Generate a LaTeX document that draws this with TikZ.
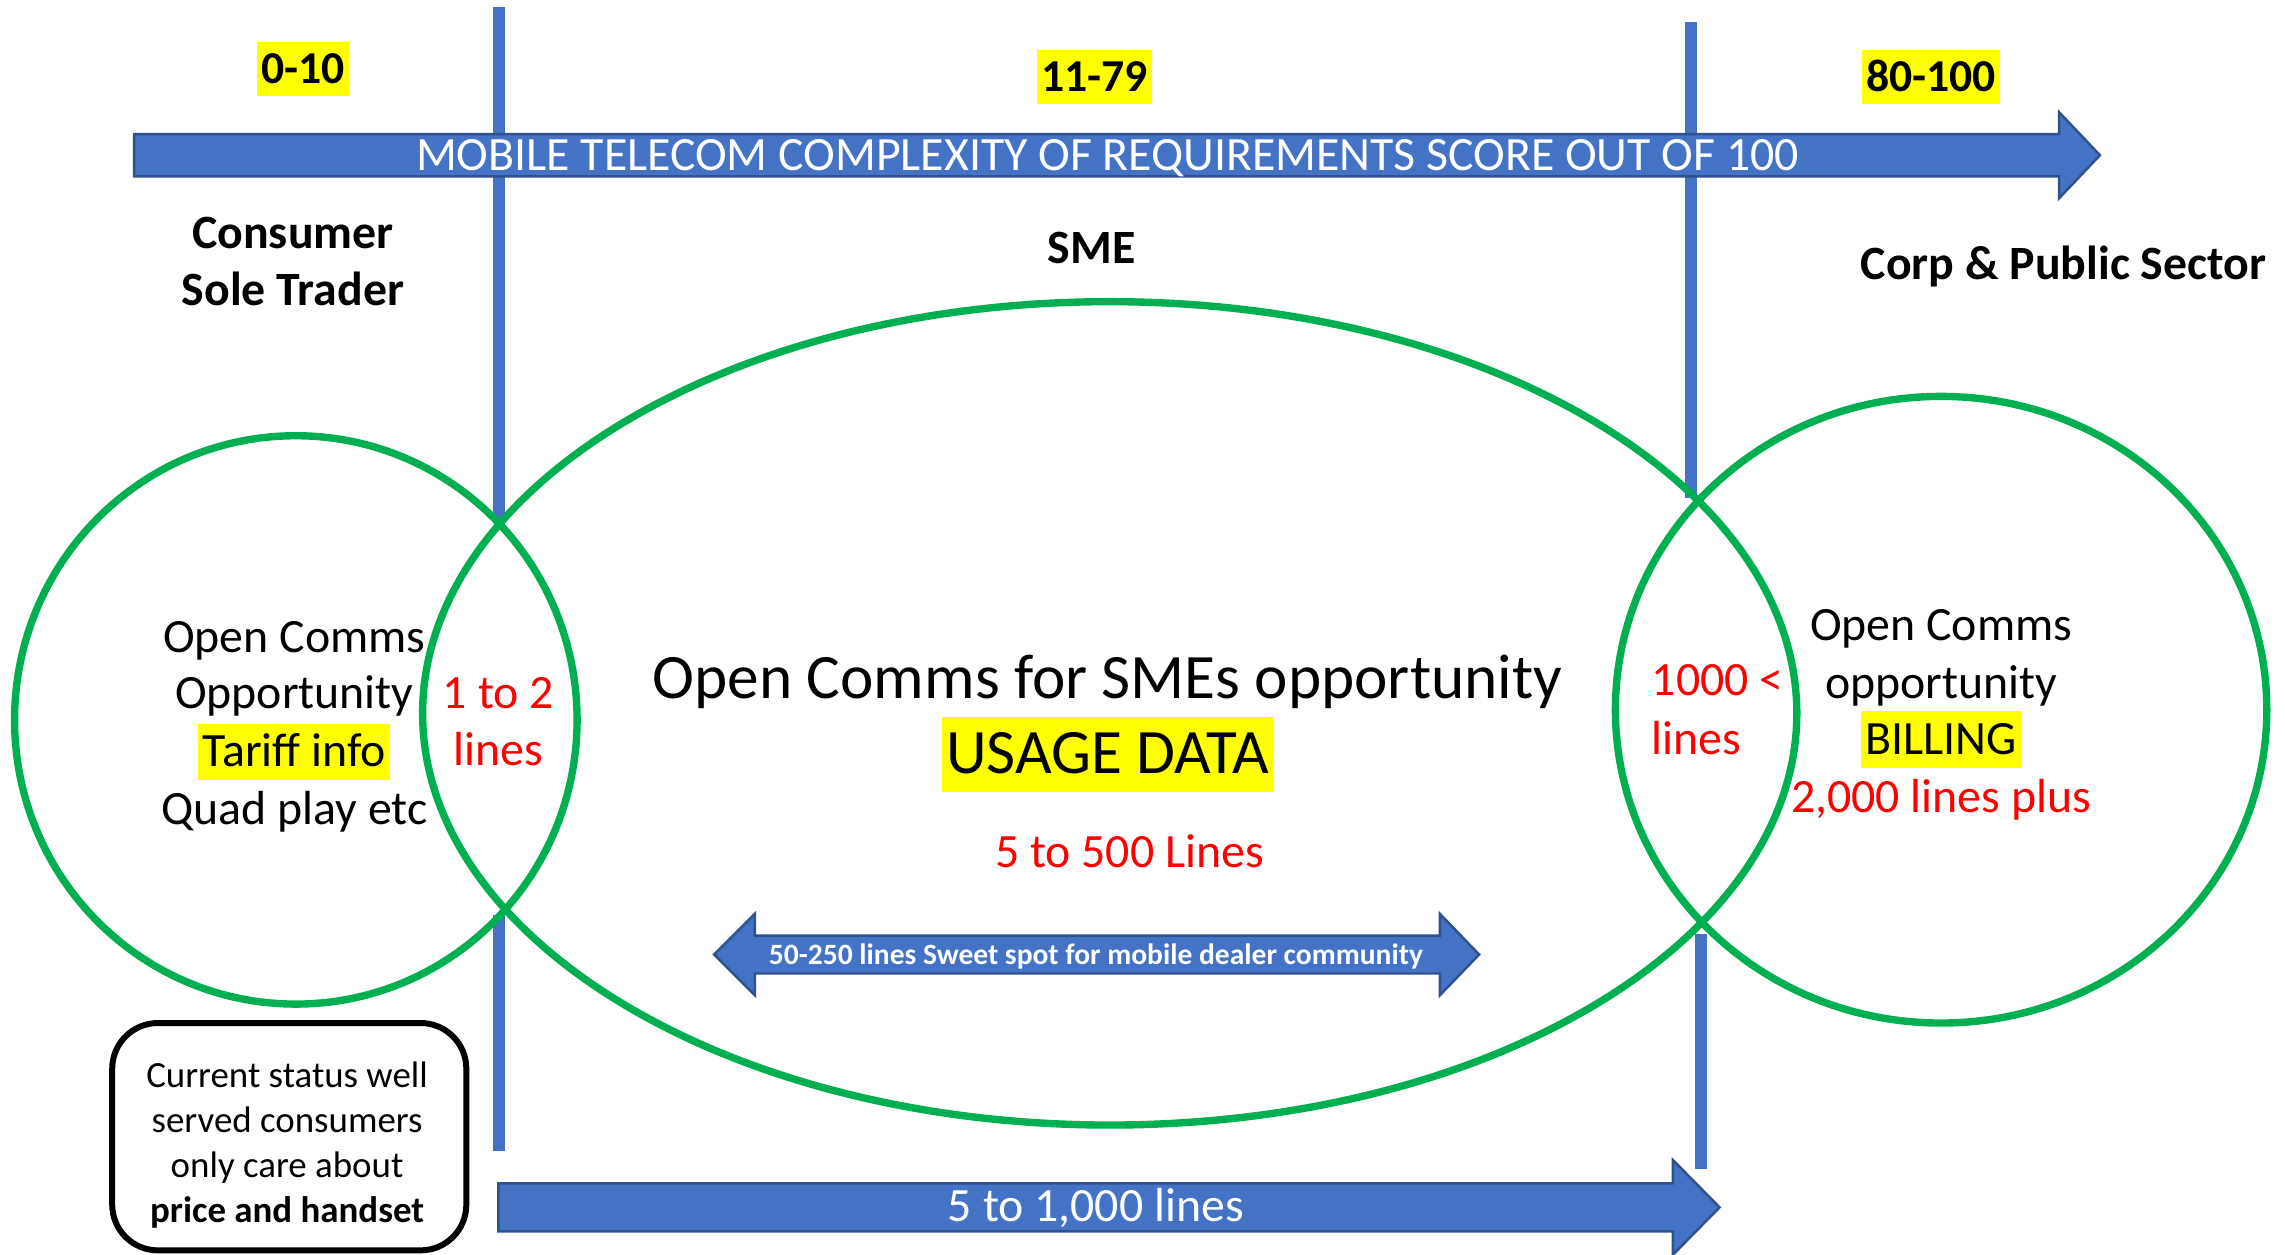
\documentclass[tikz,border=0pt]{standalone}
\usepackage{fontspec}
\setmainfont{Carlito}
\definecolor{barblue}{HTML}{4472C4}
\definecolor{baredge}{HTML}{2F528F}
\definecolor{ringgreen}{HTML}{00B050}
\definecolor{hotred}{HTML}{FF0000}
\definecolor{marker}{HTML}{FFFF00}
\begin{document}
\begin{tikzpicture}[x=0.014573cm,y=-0.014573cm,
  blockarrow/.style={fill=barblue,draw=baredge,line width=0.7pt,line join=miter},
  divider/.style={fill=barblue},
  ring/.style={draw=ringgreen,line width=2.1pt},
  txt/.style={inner sep=0pt,anchor=base},
  hl/.style={fill=marker,inner xsep=1.2pt,inner ysep=0pt,anchor=base},
  hlnum/.style={hl,text height=11.7pt,text depth=3.7pt},
  hlmain/.style={hl,text height=12.2pt,text depth=3.9pt},
  hlbig/.style={hl,text height=16.2pt,text depth=5.2pt},
  fmain/.style={font=\fontsize{13.6}{16}\selectfont},
  fbig/.style={font=\fontsize{18}{21}\selectfont},
  fnum/.style={font=\fontsize{13}{15}\selectfont\bfseries},
  fhead/.style={font=\fontsize{13.6}{16}\selectfont\bfseries},
  fsmall/.style={font=\fontsize{10.5}{12.5}\selectfont},
  fsmallbold/.style={font=\fontsize{10.5}{12.5}\selectfont\bfseries},
  fsweet/.style={font=\fontsize{8.4}{10}\selectfont\bfseries},
  redtxt/.style={text=hotred}]
\useasboundingbox (0,0) rectangle (1568,861);
\fill[white] (0,0) rectangle (1568,861);

% segment dividers
\fill[divider] (338,5) rectangle (346.5,356);
\fill[divider] (338,628) rectangle (346.5,790);
\fill[divider] (1156,15) rectangle (1164.5,342);
\fill[divider] (1163,641) rectangle (1171.5,802);

% complexity scale arrow
\draw[blockarrow] (92,92) -- (1413,92) -- (1413,77) -- (1441,106.5) -- (1413,136) -- (1413,121) -- (92,121) -- cycle;
\node[txt,fmain,text=white] (scale) at (760,117) {MOBILE TELECOM COMPLEXITY OF REQUIREMENTS SCORE OUT OF 100};

% score bands
\node[hlnum,fnum] (band1) at (208,57) {0-10};
\node[hlnum,fnum] (band2) at (751,62.5) {11-79};
\node[hlnum,fnum] (band3) at (1325,62.5) {80-100};

% segment titles
\node[txt,fhead] (consumer) at (201,170.5) {Consumer};
\node[txt,fhead] (soletrader) at (201,209.5) {Sole Trader};
\node[txt,fhead] (sme) at (749,180.5) {SME};
\node[txt,fhead] (corp) at (1416,191.5) {Corp \& Public Sector};

% market circles
\draw[ring] (203,494) ellipse [x radius=193, y radius=195];
\draw[ring] (761.5,489.5) ellipse [x radius=471.5, y radius=282.5];
\draw[ring] (1332,487) ellipse [x radius=223.5, y radius=215];

% consumer circle
\node[txt,fmain] (c1) at (202,447.5) {Open Comms};
\node[txt,fmain] (c2) at (202,486.5) {Opportunity};
\node[hlmain,fmain] (c3) at (202,526) {Tariff info};
\node[txt,fmain] (c4) at (202,565.5) {Quad play etc};
\node[txt,fmain,redtxt] (o1) at (342,486.5) {1 to 2};
\node[txt,fmain,redtxt] (o2) at (342,525.5) {lines};

% SME ellipse
\node[txt,fbig] (s1) at (760,479) {Open Comms for SMEs opportunity};
\node[hlbig,fbig] (s2) at (760,531) {USAGE DATA};
\node[txt,fmain,redtxt] (s3) at (775,595.5) {5 to 500 Lines};

% sweet spot double arrow
\draw[blockarrow] (490,655) -- (518,627) -- (518,642) -- (988,642) -- (988,627) -- (1015,655) -- (988,683) -- (988,668) -- (518,668) -- (518,683) -- cycle;
\node[txt,fsweet,text=white] (sweet) at (752,661.5) {50-250 lines Sweet spot for mobile dealer community};

% corporate circle
\node[txt,fmain,redtxt,anchor=base west] (p1) at (1133,477.5) {1000 <};
\node[txt,fmain,redtxt,anchor=base west] (p2) at (1133,517.5) {lines};
\node[txt,fmain] (r1) at (1332,439.5) {Open Comms};
\node[txt,fmain] (r2) at (1332,479.5) {opportunity};
\node[hlmain,fmain] (r3) at (1332,517.5) {BILLING};
\node[txt,fmain,redtxt] (r4) at (1332,557.5) {2,000 lines plus};

% SME line range arrow
\draw[blockarrow] (342,812) -- (1148,812) -- (1148,796) -- (1180,828.5) -- (1148,861) -- (1148,845) -- (342,845) -- cycle;
\node[txt,fmain,text=white] (range) at (752,838.5) {5 to 1,000 lines};

% status note
\draw[line width=1.7pt,rounded corners=13pt] (77,702) rectangle (320,858);
\node[txt,fsmall] (n1) at (197,746) {Current status well};
\node[txt,fsmall] (n2) at (197,777) {served consumers};
\node[txt,fsmall] (n3) at (197,808) {only care about};
\node[txt,fsmallbold] (n4) at (197,839) {price and handset};
\end{tikzpicture}
\end{document}
